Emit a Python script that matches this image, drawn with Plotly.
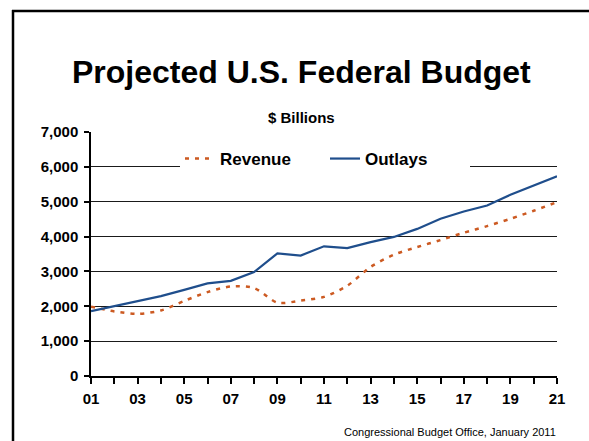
import plotly.graph_objects as go

years = list(range(2001, 2022))
revenue = [1991, 1853, 1782, 1880, 2154, 2407, 2568, 2524, 2105, 2162,
           2270, 2590, 3130, 3480, 3700, 3900, 4110, 4300, 4510, 4740, 4990]
outlays = [1863, 2011, 2160, 2293, 2472, 2655, 2729, 2983, 3518, 3456,
           3720, 3668, 3840, 3990, 4220, 4510, 4720, 4890, 5200, 5460, 5730]
tick_vals = years
tick_text = [f"{y % 100:02d}" if (y - 2001) % 2 == 0 else "" for y in years]
y_ticks = [0, 1000, 2000, 3000, 4000, 5000, 6000, 7000]

W, H = 589, 441
L, R, T, B = 91, 32, 132, 65
pw, ph = W - L - R, H - T - B

def px(x):
    return (x - L) / pw

def py(y):
    return (H - B - y) / ph

FONT = "Liberation Sans, Arial, sans-serif"

fig = go.Figure()
fig.add_trace(go.Scatter(x=years, y=revenue, name="Revenue", mode="lines",
                         line=dict(color="#CC5A22", width=2.5, dash="4px,6px",
                                   shape="spline", smoothing=0.8)))
fig.add_trace(go.Scatter(x=years, y=outlays, name="Outlays", mode="lines",
                         line=dict(color="#1F4E8C", width=2.2)))

fig.update_layout(
    width=W, height=H,
    margin=dict(l=L, r=R, t=T, b=B),
    paper_bgcolor="white", plot_bgcolor="white",
    font=dict(family=FONT, color="black"),
    showlegend=True,
    legend=dict(orientation="h", x=px(180), xanchor="left", y=py(159), yanchor="middle",
                bgcolor="white", borderwidth=0,
                font=dict(family=FONT, size=17, weight="bold", color="black"),
                entrywidth=100, tracegroupgap=0),
    xaxis=dict(range=[2001, 2021], tickmode="array", tickvals=tick_vals, ticktext=tick_text,
               showgrid=False, zeroline=False, showline=True, linecolor="black", linewidth=1.5,
               ticks="outside", ticklen=6, tickcolor="black", tickwidth=1.5,
               ticklabelstandoff=2,
               tickfont=dict(family=FONT, size=15, weight="bold", color="black")),
    yaxis=dict(range=[0, 7000], tickmode="array", tickvals=y_ticks, tickformat=",",
               showgrid=True, gridcolor="#1a1a1a", gridwidth=1.2, zeroline=False,
               showline=True, linecolor="black", linewidth=1.5,
               ticks="outside", ticklen=5, tickcolor="black", tickwidth=1.5,
               ticklabelstandoff=3,
               tickfont=dict(family=FONT, size=15, weight="bold", color="black")),
    annotations=[
        dict(text="Projected U.S. Federal Budget", xref="paper", yref="paper",
             x=px(301), y=py(72), xanchor="center", yanchor="middle", showarrow=False,
             font=dict(family=FONT, size=32, weight="bold", color="black")),
        dict(text="$ Billions", xref="paper", yref="paper",
             x=px(301), y=py(117), xanchor="center", yanchor="middle", showarrow=False,
             font=dict(family=FONT, size=15, weight="bold", color="black")),
        dict(text="Congressional Budget Office, January 2011", xref="paper", yref="paper",
             x=px(558), y=py(432), xanchor="right", yanchor="middle", showarrow=False,
             font=dict(family=FONT, size=11, color="black")),
    ],
    shapes=[
        dict(type="line", xref="paper", yref="paper", x0=px(13), x1=px(13), y0=py(10), y1=py(445),
             line=dict(color="black", width=2.5)),
        dict(type="line", xref="paper", yref="paper", x0=px(12), x1=px(595), y0=py(11), y1=py(11),
             line=dict(color="black", width=2.5)),
    ],
)

fig.write_html("out.html", config={"displayModeBar": False},
               post_script="document.body.style.margin='0px';document.body.style.overflow='hidden';")
